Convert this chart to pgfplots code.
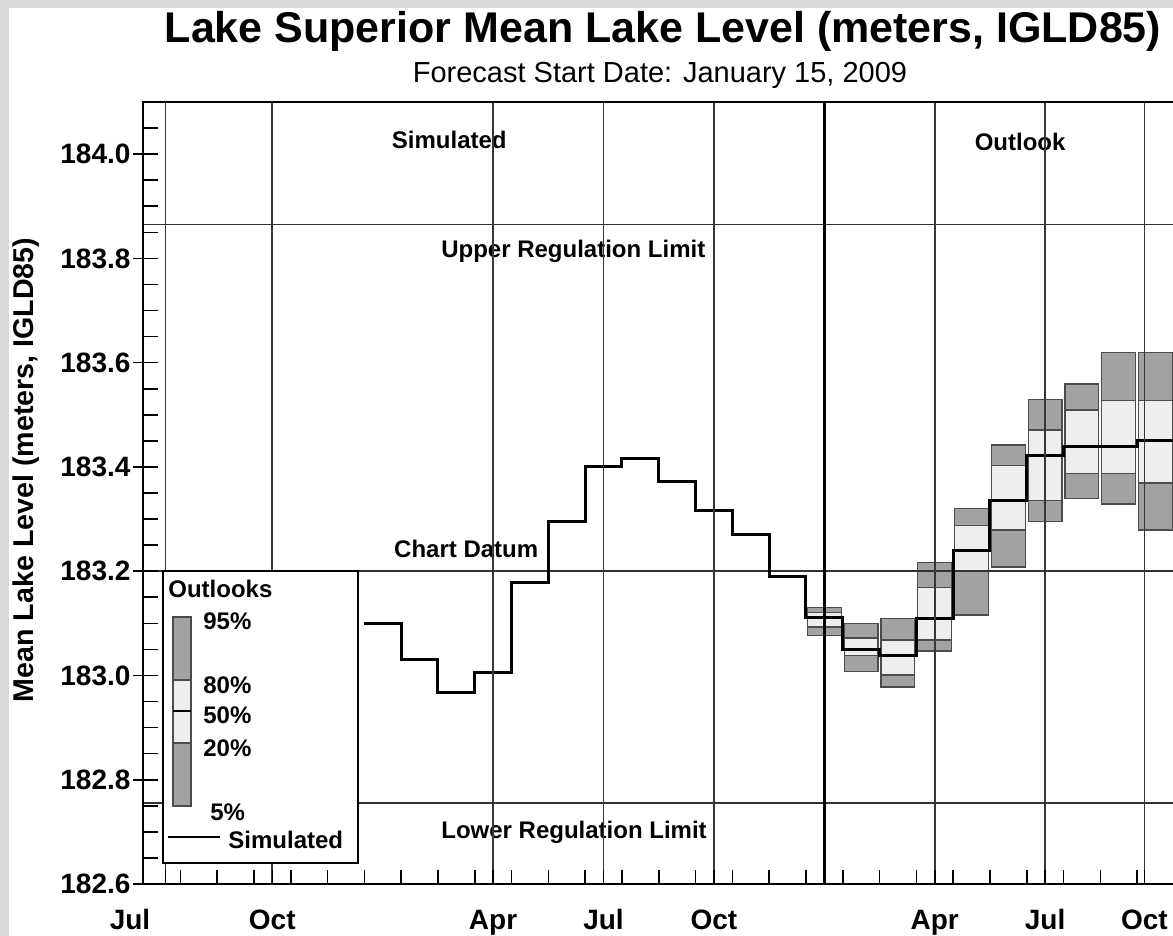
\documentclass[border=0pt]{standalone}
\usepackage{fontspec}
\setmainfont{Liberation Sans}
\usepackage{pgfplots}
\usepackage{pgfplotstable}
\pgfplotsset{compat=1.18}

\definecolor{boxdark}{RGB}{162,162,162}
\definecolor{boxlight}{RGB}{238,238,238}
\definecolor{gridc}{RGB}{55,55,55}
\definecolor{framec}{RGB}{217,217,217}

\newcommand\tickfont{\bfseries\fontsize{14}{16}\selectfont}
\newcommand\lblfont{\bfseries\fontsize{12}{14}\selectfont}

% monthly mean level, month index 0 = Jul 2007
\pgfplotstableread{
m v
5.5 183.100
6 183.100
7 183.030
8 182.968
9 183.005
10 183.179
11 183.296
12 183.400
13 183.417
14 183.373
15 183.317
16 183.271
17 183.190
18 183.112
19 183.049
20 183.039
21 183.110
22 183.240
23 183.336
24 183.421
25 183.440
26 183.440
27 183.450
27.5 183.450
}\simulated

% outlook percentiles, forecast from Jan 2009
\pgfplotstableread{
m p5 p20 p50 p80 p95
18 183.076 183.093 183.112 183.120 183.131
19 183.007 183.039 183.049 183.072 183.100
20 182.978 183.001 183.039 183.068 183.110
21 183.047 183.068 183.110 183.168 183.217
22 183.116 183.202 183.239 183.288 183.321
23 183.208 183.279 183.336 183.402 183.442
24 183.296 183.336 183.421 183.471 183.530
25 183.340 183.388 183.440 183.509 183.559
26 183.329 183.388 183.440 183.528 183.620
27 183.279 183.369 183.450 183.528 183.620
}\outlook

\begin{document}
\begin{tikzpicture}
\useasboundingbox (0,0) rectangle (586.5pt,468pt);
\fill[framec] (0,0) rectangle (586.5pt,468pt);
\fill[white] (4.5pt,0) rectangle (586.5pt,464pt);

\begin{axis}[
    at={(71.75pt,26pt)}, anchor=south west,
    scale only axis, width=524.4pt, height=391pt,
    xmin=-0.5, xmax=28, ymin=182.6, ymax=184.1,
    axis on top,
    axis line style={black, line width=1pt},
    xtick pos=bottom, ytick pos=left,
    xtick={0.1,3,9,12,15,21,24,26.7},
    xticklabels={,Oct,Apr,Jul,Oct,Apr,Jul,Oct},
    minor xtick={0.5,1.5,...,27.5},
    xmajorgrids,
    major grid style={gridc, line width=0.9pt},
    ytick={182.6,182.8,183.0,183.2,183.4,183.6,183.8,184.0},
    minor ytick={182.65,182.7,182.75,182.85,182.9,182.95,183.05,183.1,183.15,183.25,183.3,183.35,183.45,183.5,183.55,183.65,183.7,183.75,183.85,183.9,183.95,184.05},
    tick align=inside, major tick length=7pt, minor tick length=7pt,
    tick style={black, line width=0.8pt},
    extra y ticks={182.6,182.8,183.0,183.2,183.4,183.6,183.8,184.0},
    extra y tick labels={},
    extra y tick style={tick align=outside, major tick length=5pt},
    /pgf/number format/assume math mode=true,
    yticklabel style={/pgf/number format/.cd, fixed, fixed zerofill, precision=1, /tikz/.cd, font=\tickfont, xshift=-3pt},
    xticklabel style={font=\tickfont, anchor=base, yshift=-23pt},
]
% outlook boxes: 5-95 % outer, 20-80 % inner
\pgfplotsinvokeforeach{0,...,9}{
  \pgfplotstablegetelem{#1}{m}\of\outlook
  \pgfmathsetmacro\xa{\pgfplotsretval-0.46}
  \pgfmathsetmacro\xb{\pgfplotsretval+0.46}
  \pgfplotstablegetelem{#1}{p5}\of\outlook \let\pa\pgfplotsretval
  \pgfplotstablegetelem{#1}{p20}\of\outlook \let\pb\pgfplotsretval
  \pgfplotstablegetelem{#1}{p80}\of\outlook \let\pd\pgfplotsretval
  \pgfplotstablegetelem{#1}{p95}\of\outlook \let\pe\pgfplotsretval
  \addplot[fill=boxdark, draw=black!70, line width=0.6pt] coordinates {(\xa,\pa) (\xb,\pa) (\xb,\pe) (\xa,\pe)} -- cycle;
  \addplot[fill=boxlight, draw=black!70, line width=0.6pt] coordinates {(\xa,\pb) (\xb,\pb) (\xb,\pd) (\xa,\pd)} -- cycle;
}
% reference levels
\addplot[black!80, line width=0.7pt] coordinates {(-0.5,183.2) (28,183.2)};
\addplot[black!80, line width=0.7pt] coordinates {(-0.5,183.865) (28,183.865)};
\addplot[black!80, line width=0.7pt] coordinates {(-0.5,182.755) (28,182.755)};
% forecast start
\addplot[black, line width=1.4pt] coordinates {(18,182.6) (18,184.1)};
% simulated / median
\addplot[black, line width=1.5pt, const plot mark mid] table[x=m, y=v] {\simulated};

\node[font=\lblfont, anchor=base] at (axis cs:7.81,184.011) {Simulated};
\node[font=\lblfont, anchor=base] at (axis cs:23.32,184.006) {Outlook};
\node[font=\lblfont, anchor=base] at (axis cs:11.18,183.802) {Upper Regulation Limit};
\node[font=\lblfont, anchor=base] at (axis cs:8.27,183.227) {Chart Datum};
\node[font=\lblfont, anchor=base] at (axis cs:11.2,182.688) {Lower Regulation Limit};
\end{axis}

% page positions in pixels of the reference (origin top left)
\begin{scope}[x=0.5pt, y=-0.5pt, shift={(0pt,468pt)}]
\node[anchor=base, inner sep=0pt, font=\bfseries\fontsize{21.5}{24}\selectfont] at (663,43) {Lake Superior Mean Lake Level (meters, IGLD85)};
\node[anchor=base, inner sep=0pt, font=\fontsize{14.5}{17}\selectfont] at (660,83) {Forecast Start Date: January 15, 2009};
\node[anchor=base, inner sep=0pt, rotate=90, font=\bfseries\fontsize{14.3}{17}\selectfont] at (33,470) {Mean Lake Level (meters, IGLD85)};
\node[anchor=base, inner sep=0pt, font=\tickfont] at (130,930) {Jul};

% legend
\draw[fill=white, line width=1pt] (163,571) rectangle (358,863);
\node[anchor=base west, inner sep=0pt, font=\lblfont] at (168,598) {Outlooks};
\filldraw[fill=boxdark, draw=black!70, line width=0.6pt] (173,617) rectangle (191,806);
\filldraw[fill=boxlight, draw=black!70, line width=0.6pt] (173,680) rectangle (191,743);
\draw[line width=1.3pt] (173,711) -- (191,711);
\node[anchor=base west, inner sep=0pt, font=\lblfont] at (203,630) {95\%};
\node[anchor=base west, inner sep=0pt, font=\lblfont] at (203,694) {80\%};
\node[anchor=base west, inner sep=0pt, font=\lblfont] at (203,724) {50\%};
\node[anchor=base west, inner sep=0pt, font=\lblfont] at (203,757) {20\%};
\node[anchor=base west, inner sep=0pt, font=\lblfont] at (210,821) {5\%};
\draw[line width=1.3pt] (168,837) -- (220,837);
\node[anchor=base west, inner sep=0pt, font=\lblfont] at (228,849) {Simulated};
\end{scope}
\end{tikzpicture}
\end{document}
